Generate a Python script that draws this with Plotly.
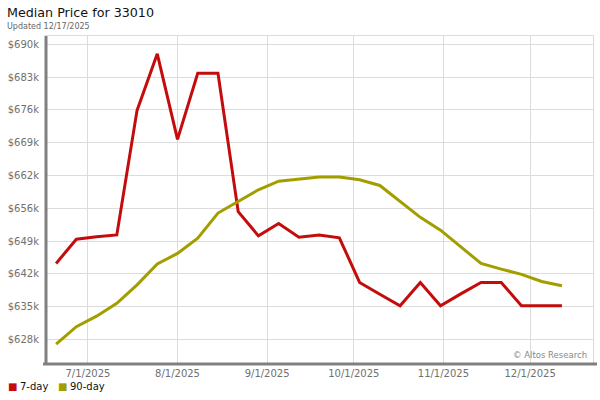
import plotly.graph_objects as go

dates = ["2025-06-20", "2025-06-27", "2025-07-04", "2025-07-11", "2025-07-18", "2025-07-25",
         "2025-08-01", "2025-08-08", "2025-08-15", "2025-08-22", "2025-08-29", "2025-09-05",
         "2025-09-12", "2025-09-19", "2025-09-26", "2025-10-03", "2025-10-10", "2025-10-17",
         "2025-10-24", "2025-10-31", "2025-11-07", "2025-11-14", "2025-11-21", "2025-11-28",
         "2025-12-05", "2025-12-12"]

price_7day = [644000, 649100, 649600, 650000, 676200, 688100, 670100, 684000, 684000, 654900,
              649800, 652400, 649500, 650000, 649400, 640000, 637500, 635100, 640000, 635100,
              637600, 640000, 640000, 635100, 635100, 635100]

price_90day = [627000, 630700, 632900, 635600, 639500, 643900, 646100, 649300, 654600, 657000,
               659500, 661300, 661800, 662200, 662200, 661600, 660400, 657000, 653700, 651000,
               647500, 644000, 642800, 641700, 640200, 639300]

y_tick_vals = [628000, 634900, 641800, 648700, 655600, 662500, 669400, 676300, 683200, 690100]
y_tick_text = ["$628k", "$635k", "$642k", "$649k", "$656k", "$662k", "$669k", "$676k", "$683k", "$690k"]

x_tick_vals = ["2025-07-01", "2025-08-01", "2025-09-01", "2025-10-01", "2025-11-01", "2025-12-01"]
x_tick_text = ["7/1/2025", "8/1/2025", "9/1/2025", "10/1/2025", "11/1/2025", "12/1/2025"]

series_names = ["7-day", "90-day"]
series_colors = ["#c40c0c", "#a39e00"]

FONT = "DejaVu Sans"

W, H = 600, 400
L, R, T, B = 46, 7, 36, 36
PW, PH = W - L - R, H - T - B


def px(fx):
    return (fx - L) / PW


def py(fy):
    return (H - B - fy) / PH


fig = go.Figure()
for name, vals, col in zip(series_names, [price_7day, price_90day], series_colors):
    fig.add_trace(go.Scatter(x=dates, y=vals, mode="lines", name=name,
                             line=dict(color=col, width=3), showlegend=False,
                             hoverinfo="skip"))

fig.update_layout(
    width=W, height=H,
    margin=dict(l=L, r=R, t=T, b=B, autoexpand=False),
    paper_bgcolor="white", plot_bgcolor="white",
    font=dict(family=FONT, size=10, color="#666666"),
    xaxis=dict(range=["2025-06-16 12:00", "2025-12-22 18:00"], automargin=False,
               tickmode="array", tickvals=x_tick_vals, ticktext=x_tick_text,
               showgrid=True, gridcolor="#dcdcdc", gridwidth=1,
               showline=True, linecolor="#dcdcdc", linewidth=1, mirror=True,
               ticks="", zeroline=False,
               tickfont=dict(family=FONT, size=10, color="#707070")),
    yaxis=dict(range=[622840, 691850], automargin=False,
               tickmode="array", tickvals=y_tick_vals, ticktext=y_tick_text,
               showgrid=True, gridcolor="#dcdcdc", gridwidth=1,
               showline=True, linecolor="#dcdcdc", linewidth=1, mirror=True,
               ticks="", zeroline=False, ticklabelstandoff=4,
               tickfont=dict(family=FONT, size=10, color="#707070")),
    showlegend=False,
)

# heavy left and bottom axis lines
fig.add_shape(type="line", xref="paper", yref="paper", x0=0, x1=0, y0=0, y1=1,
              line=dict(color="#808080", width=3))
fig.add_shape(type="line", xref="paper", yref="paper", x0=px(43), x1=px(597), y0=0, y1=0,
              line=dict(color="#808080", width=3))

# title and subtitle
fig.add_annotation(text="Median Price for 33010", xref="paper", yref="paper",
                   x=px(5), y=py(3), xanchor="left", yanchor="top", showarrow=False,
                   font=dict(family=FONT, size=12.7, color="#111111"))
fig.add_annotation(text="Updated 12/17/2025", xref="paper", yref="paper",
                   x=px(5), y=py(20), xanchor="left", yanchor="top", showarrow=False,
                   font=dict(family=FONT, size=8, color="#666666"))

# watermark
fig.add_annotation(text="© Altos Research", xref="paper", yref="paper",
                   x=px(589), y=py(362), xanchor="right", yanchor="bottom", showarrow=False,
                   font=dict(family=FONT, size=8.5, color="#888888"))

# legend
leg_x = [6, 56]
for name, col, lx in zip(series_names, series_colors, leg_x):
    fig.add_annotation(text="■", xref="paper", yref="paper",
                       x=px(lx), y=py(386), xanchor="left", yanchor="middle",
                       showarrow=False, font=dict(family=FONT, size=10, color=col))
    fig.add_annotation(text=name, xref="paper", yref="paper",
                       x=px(lx + 12), y=py(386), xanchor="left", yanchor="middle",
                       showarrow=False, font=dict(family=FONT, size=10, color="#111111"))

fig.write_html("out.html",
               config={"displayModeBar": False},
               post_script="document.body.style.margin='0';document.body.style.overflow='hidden';")
